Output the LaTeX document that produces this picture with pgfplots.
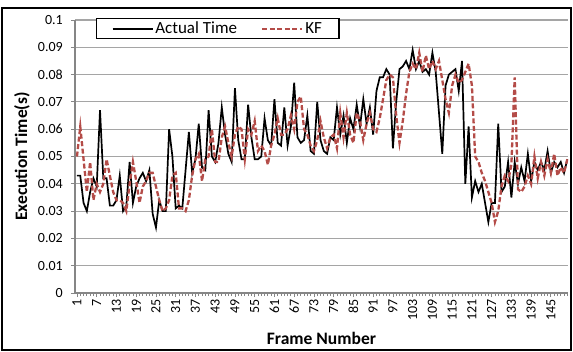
\documentclass[border=0pt]{standalone}
\usepackage{fontspec}
\setmainfont{Carlito}
\usepackage{pgfplots}
\pgfplotsset{compat=1.18}
\usepackage{pgfplotstable}
\definecolor{kfred}{RGB}{180,76,72}
\definecolor{gridgray}{RGB}{165,165,165}
\definecolor{axgray}{RGB}{134,134,134}

\pgfplotstableread{
f act kf
1 0.043 0.050
2 0.043 0.061
3 0.033 0.049
4 0.030 0.037
5 0.037 0.048
6 0.042 0.034
7 0.039 0.040
8 0.067 0.037
9 0.042 0.040
10 0.042 0.049
11 0.032 0.043
12 0.032 0.037
13 0.034 0.034
14 0.043 0.034
15 0.030 0.033
16 0.032 0.030
17 0.048 0.040
18 0.033 0.048
19 0.039 0.041
20 0.042 0.033
21 0.044 0.039
22 0.041 0.041
23 0.045 0.044
24 0.029 0.044
25 0.024 0.039
26 0.034 0.034
27 0.030 0.030
28 0.030 0.031
29 0.060 0.034
30 0.050 0.043
31 0.031 0.044
32 0.032 0.031
33 0.031 0.031
34 0.045 0.030
35 0.059 0.034
36 0.044 0.043
37 0.049 0.049
38 0.062 0.051
39 0.046 0.041
40 0.045 0.049
41 0.067 0.050
42 0.050 0.060
43 0.048 0.048
44 0.055 0.048
45 0.068 0.057
46 0.058 0.061
47 0.051 0.055
48 0.048 0.050
49 0.075 0.058
50 0.056 0.061
51 0.049 0.060
52 0.049 0.049
53 0.069 0.060
54 0.057 0.058
55 0.049 0.063
56 0.049 0.052
57 0.050 0.054
58 0.064 0.052
59 0.056 0.047
60 0.054 0.054
61 0.071 0.058
62 0.055 0.064
63 0.054 0.058
64 0.068 0.058
65 0.054 0.060
66 0.061 0.065
67 0.077 0.060
68 0.057 0.070
69 0.055 0.072
70 0.056 0.060
71 0.065 0.058
72 0.052 0.054
73 0.051 0.052
74 0.070 0.056
75 0.056 0.063
76 0.052 0.057
77 0.051 0.053
78 0.057 0.057
79 0.056 0.058
80 0.068 0.053
81 0.058 0.066
82 0.065 0.057
83 0.055 0.066
84 0.064 0.058
85 0.060 0.055
86 0.069 0.066
87 0.061 0.063
88 0.071 0.056
89 0.062 0.062
90 0.068 0.066
91 0.058 0.060
92 0.074 0.059
93 0.079 0.064
94 0.079 0.071
95 0.082 0.078
96 0.080 0.080
97 0.053 0.079
98 0.070 0.065
99 0.082 0.055
100 0.083 0.063
101 0.085 0.073
102 0.082 0.081
103 0.089 0.084
104 0.082 0.082
105 0.085 0.088
106 0.081 0.081
107 0.082 0.087
108 0.080 0.082
109 0.088 0.085
110 0.081 0.082
111 0.066 0.085
112 0.051 0.078
113 0.076 0.071
114 0.080 0.066
115 0.081 0.076
116 0.082 0.080
117 0.074 0.077
118 0.085 0.078
119 0.040 0.081
120 0.061 0.084
121 0.035 0.076
122 0.041 0.050
123 0.037 0.048
124 0.040 0.044
125 0.033 0.041
126 0.026 0.037
127 0.033 0.033
128 0.033 0.026
129 0.062 0.030
130 0.037 0.039
131 0.039 0.043
132 0.048 0.041
133 0.035 0.047
134 0.048 0.079
135 0.040 0.038
136 0.046 0.037
137 0.041 0.039
138 0.051 0.043
139 0.041 0.040
140 0.048 0.050
141 0.045 0.042
142 0.048 0.048
143 0.045 0.043
144 0.052 0.049
145 0.044 0.044
146 0.048 0.051
147 0.046 0.043
148 0.048 0.046
149 0.044 0.044
150 0.049 0.049
}\datatable

\begin{document}
\fontsize{14bp}{16bp}\selectfont
\begin{tikzpicture}
\useasboundingbox (-75bp,-59bp) rectangle (498bp,293bp);
\begin{axis}[
  at={(0,0)}, anchor=south west,
  scale only axis, width=493bp, height=273bp,
  xmin=0.4, xmax=150.2, ymin=0, ymax=0.1,
  axis x line*=bottom, axis y line*=left,
  axis line style={axgray, line width=1.3bp},
  xtick={1,7,...,145},
  minor xtick={1,...,150},
  ytick={0,0.01,0.02,0.03,0.04,0.05,0.06,0.07,0.08,0.09,0.1},
  scaled y ticks=false,
  yticklabel style={/pgf/number format/fixed, /pgf/number format/precision=2},
  /pgf/number format/assume math mode=true,
  xticklabel style={rotate=90, anchor=east, inner sep=2bp},
  yticklabel style={anchor=east, inner sep=2bp, xshift=-6bp},
  tick label style={font=\fontsize{14bp}{16bp}\selectfont},
  ymajorgrids, grid style={gridgray, line width=1.2bp},
  tick align=outside, major tick length=4bp, minor tick length=3bp,
  tick style={axgray, line width=0.8bp},
  xlabel={\bfseries Frame Number},
  ylabel={\bfseries Execution Time(s)},
  label style={font=\fontsize{17.5bp}{20bp}\selectfont},
  xlabel style={at={(axis description cs:0.5,-0.165)}, anchor=center},
  ylabel style={at={(axis description cs:-0.1075,0.5)}, anchor=center},
  legend columns=2,
  legend style={at={(axis description cs:0.0426,1.007)}, anchor=north west,
    draw=black, line width=1.3bp, fill=white,
    font=\fontsize{17bp}{19bp}\selectfont,
    inner xsep=15bp, inner ysep=1bp,
    /tikz/every even column/.append style={column sep=22bp}},
  legend image code/.code={\draw[#1] (0bp,0bp) -- (40bp,0bp);},
]
\addplot[black, line width=1.7bp] table[x=f, y=act] {\datatable};
\addlegendentry{Actual Time}
\addplot[kfred, line width=2.3bp, dash pattern=on 5bp off 2.5bp] table[x=f, y=kf] {\datatable};
\addlegendentry{KF}
\end{axis}
\draw[line width=2bp] (-73bp,-57bp) rectangle (496bp,285bp);
\end{tikzpicture}
\end{document}
